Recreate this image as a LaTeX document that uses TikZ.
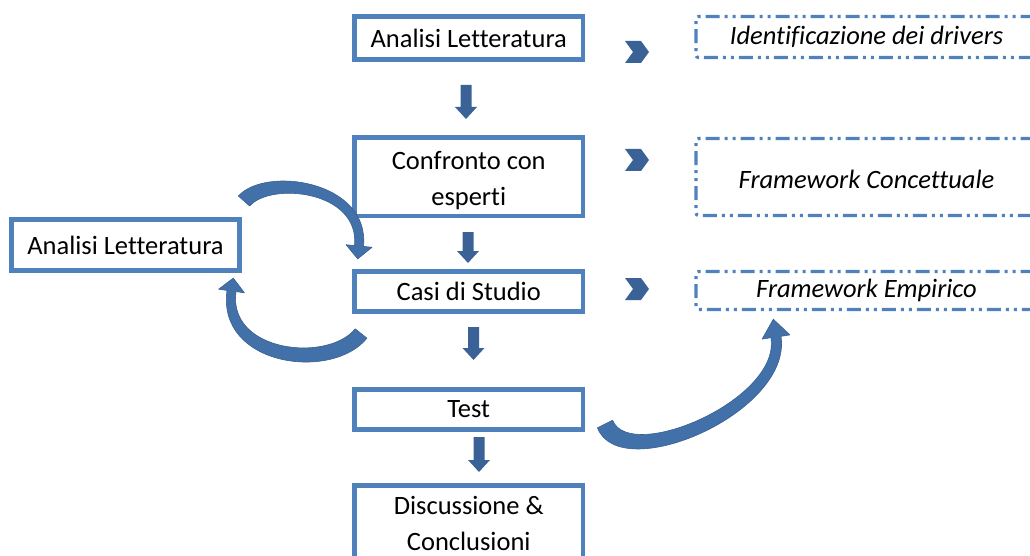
\documentclass[tikz,border=0pt]{standalone}
\usepackage{fontspec}
\setmainfont[Ligatures={NoCommon,NoRare}]{Carlito}
\definecolor{boxblue}{HTML}{4F81BD}
\definecolor{arrowblue}{HTML}{3B6296}
\definecolor{curveblue}{HTML}{4271AA}
\tikzset{
  stepbox/.style={draw=boxblue, line width=4.5pt, fill=white, inner sep=0pt,
    align=center, font=\fontsize{26.5}{36}\selectfont},
  outbox/.style={draw=boxblue, line width=3.2pt, rounded corners=2.5pt,
    dash pattern=on 14pt off 5pt on 3pt off 5pt on 3pt off 5pt,
    inner sep=0pt, align=center, font=\fontsize{26.5}{36}\selectfont\itshape},
  blockarrow/.style={fill=arrowblue},
  curvearrow/.style={fill=curveblue, draw=curveblue!85!black, line width=0.6pt, line join=round},
}
% vertical block arrow: x, top y, tip y
\newcommand{\blockdown}[3]{%
  \fill[blockarrow] (#1-5.5,#2) -- (#1+5.5,#2) -- (#1+5.5,#3-12) -- (#1+11,#3-12)
    -- (#1,#3) -- (#1-11,#3-12) -- (#1-5.5,#3-12) -- cycle;}
% chevron centred at x, y
\newcommand{\chevronat}[2]{%
  \fill[blockarrow] (#1-12,#2-11) -- (#1+4,#2-11) -- (#1+12,#2) -- (#1+4,#2+11)
    -- (#1-12,#2+11) -- (#1-4,#2) -- cycle;}
% lower text by #1 while keeping its nominal size
\newcommand{\nudge}[2]{\raisebox{#1}[\height][\depth]{#2}}
\begin{document}
\begin{tikzpicture}[x=1pt,y=-1pt]
\useasboundingbox (0,0) rectangle (1030,556);
\clip (0,0) rectangle (1030,556);

% main sequence of steps
\node[stepbox, minimum width=228.5pt, minimum height=43pt] (lit) at (468.75,38) {Analisi Letteratura};
\node[stepbox, minimum width=228.5pt, minimum height=78.5pt] (esp) at (468.75,176.75)
  {\nudge{-4pt}{\begin{tabular}{@{}c@{}}Confronto con\\esperti\end{tabular}}};
\node[stepbox, minimum width=228.5pt, minimum height=40pt] (casi) at (468.75,291.5) {Casi di Studio};
\node[stepbox, minimum width=228.5pt, minimum height=40pt] (test) at (468.75,409.5) {Test};
\node[stepbox, minimum width=228.5pt, minimum height=76pt] (disc) at (468.75,523.5) {Discussione \&\\Conclusioni};

% side step
\node[stepbox, minimum width=228pt, minimum height=51pt] (lit2) at (125.5,245) {Analisi Letteratura};

% outputs
\node[outbox, minimum width=341pt, minimum height=41pt] (drv) at (866.5,37) {Identificazione dei drivers};
\node[outbox, minimum width=341pt, minimum height=77pt] (fwc) at (866.5,177) {\nudge{-2.5pt}{Framework Concettuale}};
\node[outbox, minimum width=341pt, minimum height=38pt] (fwe) at (866.5,290.5) {Framework Empirico};

% block arrows between steps
\blockdown{466}{85}{119}
\blockdown{468}{232}{263}
\blockdown{473.5}{327}{360}
\blockdown{479}{437}{472}

% chevrons towards the outputs
\chevronat{637}{52}
\chevronat{637}{160}
\chevronat{637}{289}

% curved arrow: side step to "Casi di Studio"
\filldraw[curvearrow] (238.4,196) .. controls (265.3,165.8) and (370,180.5) .. (363.5,246.4)
  -- (372,247.3) -- (357.7,258.9) -- (346,244.7) -- (354.5,245.6)
  .. controls (359.9,190.7) and (271.2,181.7) .. (249.6,206) -- cycle;

% curved arrow: "Casi di Studio" back to side step
\filldraw[curvearrow] (355.2,328.8) .. controls (327.9,362.7) and (227.6,352.3) .. (236,291.6)
  -- (244.4,292.8) -- (233.3,278.1) -- (218.6,289.2) -- (227,290.4)
  .. controls (216.5,366.3) and (332.2,381.3) .. (366.9,338.2) -- cycle;

% curved arrow: "Test" to "Framework Empirico"
\filldraw[curvearrow] (597.4,427.8) .. controls (620.4,486.5) and (792.6,412.5) .. (781,336.3)
  -- (789.9,334.9) -- (773.3,319.2) -- (762.1,339.1) -- (771,337.7)
  .. controls (780.5,400) and (629.6,463.6) .. (612.6,420.2) -- cycle;
\end{tikzpicture}
\end{document}
